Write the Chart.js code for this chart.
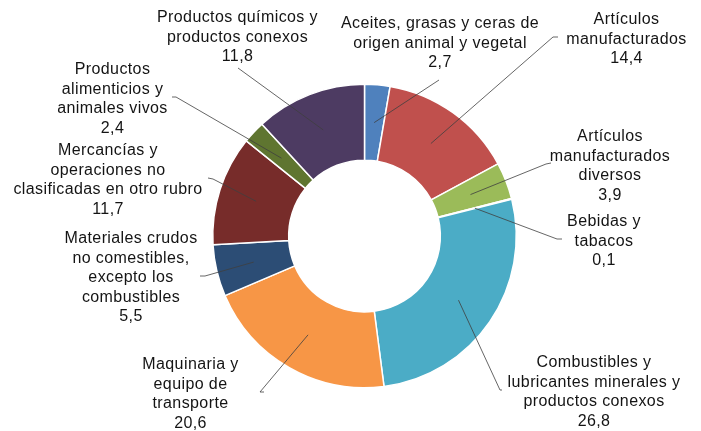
<!DOCTYPE html>
<html>
<head>
<meta charset="utf-8">
<script src="https://cdn.jsdelivr.net/npm/chart.js@4/dist/chart.umd.min.js"></script>
<style>
  html, body { margin: 0; padding: 0; background: #fff; }
  #wrap { width: 701px; height: 431px; }
</style>
</head>
<body>
<div id="wrap"><canvas id="donutChart" width="701" height="431"></canvas></div>
<script>
// categorias (con sus saltos de linea) y valores, en el orden del grafico
const categorias = [
  ["Aceites, grasas y ceras de", "origen animal y vegetal"],
  ["Artículos", "manufacturados"],
  ["Artículos", "manufacturados", "diversos"],
  ["Bebidas y", "tabacos"],
  ["Combustibles y", "lubricantes minerales y", "productos conexos"],
  ["Maquinaria y", "equipo de", "transporte"],
  ["Materiales crudos", "no comestibles,", "excepto los", "combustibles"],
  ["Mercancías y", "operaciones no", "clasificadas en otro rubro"],
  ["Productos", "alimenticios y", "animales vivos"],
  ["Productos químicos y", "productos conexos"]
];
const valores = [2.7, 14.4, 3.9, 0.1, 26.8, 20.6, 5.5, 11.7, 2.4, 11.8];
const colores = ["#4F81BD", "#C0504D", "#9BBB59", "#8064A2", "#4BACC6",
                 "#F79646", "#2C4D75", "#772C2A", "#5F7530", "#4D3B62"];

// posicion de cada etiqueta: centro x, y de la primera linea
const posEtiquetas = [
  [440, 24], [626.5, 20], [610, 137], [604, 222], [594, 363],
  [190.5, 365], [131, 239], [108, 151], [112.5, 70], [237.5, 18]
];
// inicio de la linea guia (punto junto a la etiqueta, codo)
const guias = [
  [[439, 80]],
  [[558, 37], [553, 37]],
  [[551, 163], [546, 164]],
  [[562, 239], [557, 239]],
  [[502, 390], [500, 390]],
  [[264, 392], [260, 392]],
  [[200, 276], [205, 276]],
  [[208, 178], [213, 179]],
  [[172, 97], [176, 97]],
  [[238, 68]]
];

const altoLinea = 19.4;

const etiquetasPlugin = {
  id: 'etiquetas',
  afterDraw(chart) {
    const ctx = chart.ctx;
    const meta = chart.getDatasetMeta(0);
    ctx.save();
    meta.data.forEach(function (arc, i) {
      const p = arc.getProps(['x', 'y', 'startAngle', 'endAngle', 'innerRadius', 'outerRadius'], true);
      const a = (p.startAngle + p.endAngle) / 2;
      const r = (p.innerRadius + p.outerRadius) / 2;
      const ex = p.x + r * Math.cos(a);
      const ey = p.y + r * Math.sin(a);

      ctx.strokeStyle = '#3f3f3f';
      ctx.lineWidth = 0.8;
      ctx.beginPath();
      guias[i].forEach(function (pt, k) {
        if (k === 0) ctx.moveTo(pt[0], pt[1]); else ctx.lineTo(pt[0], pt[1]);
      });
      ctx.lineTo(ex, ey);
      ctx.stroke();

      const lineas = categorias[i].concat([valores[i].toFixed(1).replace('.', ',')]);
      ctx.fillStyle = '#141414';
      ctx.font = '16px "Liberation Sans", Arial, sans-serif';
      ctx.textAlign = 'center';
      ctx.textBaseline = 'middle';
      if ('letterSpacing' in ctx) ctx.letterSpacing = '0.4px';
      lineas.forEach(function (t, k) {
        ctx.fillText(t, posEtiquetas[i][0], posEtiquetas[i][1] + k * altoLinea);
      });
    });
    ctx.restore();
  }
};

const ctx = document.getElementById('donutChart').getContext('2d');
new Chart(ctx, {
  type: 'doughnut',
  data: {
    labels: categorias,
    datasets: [{
      data: valores,
      backgroundColor: colores,
      borderColor: '#ffffff',
      borderWidth: 1.5
    }]
  },
  options: {
    responsive: false,
    animation: false,
    cutout: '50%',
    layout: { padding: { left: 212, right: 184, top: 83, bottom: 42 } },
    plugins: {
      legend: { display: false },
      tooltip: { enabled: false }
    }
  },
  plugins: [etiquetasPlugin]
});
</script>
</body>
</html>
